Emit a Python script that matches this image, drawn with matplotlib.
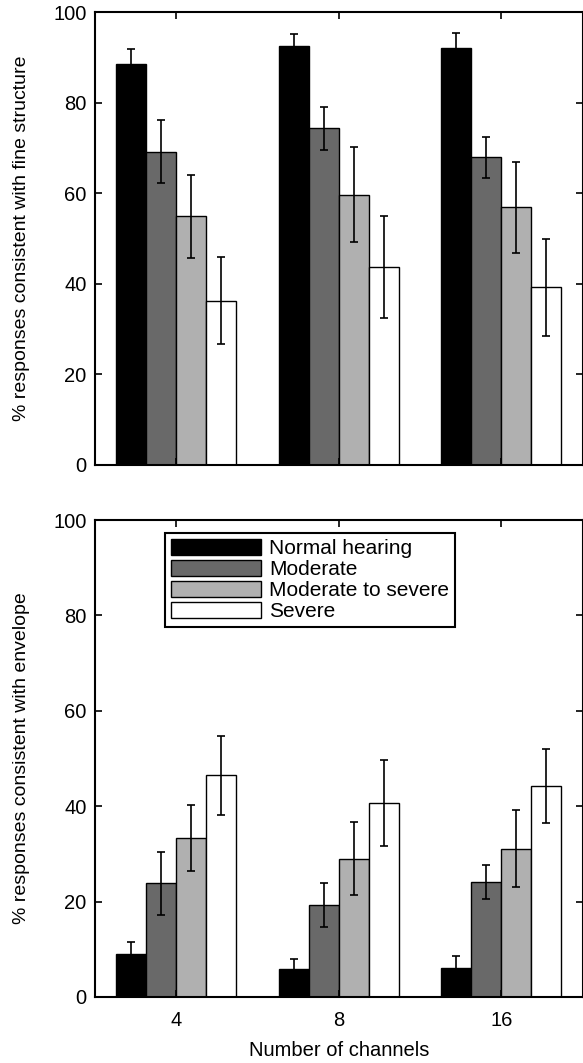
import numpy as np
import matplotlib.pyplot as plt

plt.rcParams['font.family'] = ['Liberation Sans', 'DejaVu Sans']

# data
channels = ['4', '8', '16']
groups = ['Normal hearing', 'Moderate', 'Moderate to severe', 'Severe']
colors = ['#000000', '#696969', '#b0b0b0', '#ffffff']

fine = [[88.6, 92.5, 92.0],
        [69.2, 74.3, 67.9],
        [54.9, 59.7, 56.9],
        [36.3, 43.7, 39.2]]
fine_err = [[3.2, 2.7, 3.4],
            [7.0, 4.7, 4.6],
            [9.2, 10.4, 10.0],
            [9.6, 11.2, 10.8]]

env = [[9.1, 5.9, 6.0],
       [23.8, 19.3, 24.1],
       [33.4, 29.0, 31.1],
       [46.5, 40.7, 44.2]]
env_err = [[2.4, 2.1, 2.7],
           [6.6, 4.6, 3.6],
           [6.9, 7.6, 8.0],
           [8.3, 9.0, 7.8]]

x = np.arange(1, len(channels) + 1)
w = 0.184

fig = plt.figure(figsize=(5.83, 10.63), dpi=100)
ax1 = fig.add_axes([95/583, 1 - 465/1063, 487.5/583, 453/1063])
ax2 = fig.add_axes([95/583, 1 - 997/1063, 487.5/583, 477/1063])


def draw(ax, vals, errs):
    for i in range(len(groups)):
        ax.bar(x + (i - 1.5) * w, vals[i], w, color=colors[i],
               edgecolor='black', linewidth=1.0, label=groups[i],
               yerr=errs[i], capsize=3,
               error_kw=dict(ecolor='black', elinewidth=1.2, capthick=1.2))
    ax.set_xlim(0.5, 3.5)
    ax.set_ylim(0, 100)
    ax.set_yticks([0, 20, 40, 60, 80, 100])
    ax.set_xticks(x)
    ax.tick_params(direction='in', length=5, width=1.2, top=True, right=True,
                   labelsize=14.5, pad=6)
    for s in ax.spines.values():
        s.set_linewidth(1.5)


draw(ax1, fine, fine_err)
ax1.tick_params(labelbottom=False)
ax1.set_ylabel('% responses consistent with fine structure', fontsize=14)
ax1.yaxis.set_label_coords(-0.133, 0.5)

draw(ax2, env, env_err)
ax2.set_xticklabels(channels)
ax2.tick_params(axis='x', pad=10)
ax2.set_xlabel('Number of channels', fontsize=14.5, labelpad=8)
ax2.set_ylabel('% responses consistent with envelope', fontsize=14)
ax2.yaxis.set_label_coords(-0.133, 0.5)

leg = ax2.legend(loc='upper left', bbox_to_anchor=(0.1436, 0.973),
                 borderaxespad=0, fontsize=15, handlelength=4.3,
                 handleheight=0.8, handletextpad=0.4, labelspacing=0.08,
                 borderpad=0.3, fancybox=False, framealpha=1)
leg.get_frame().set_edgecolor('black')
leg.get_frame().set_linewidth(1.5)

fig.savefig('out.png', dpi=100)
